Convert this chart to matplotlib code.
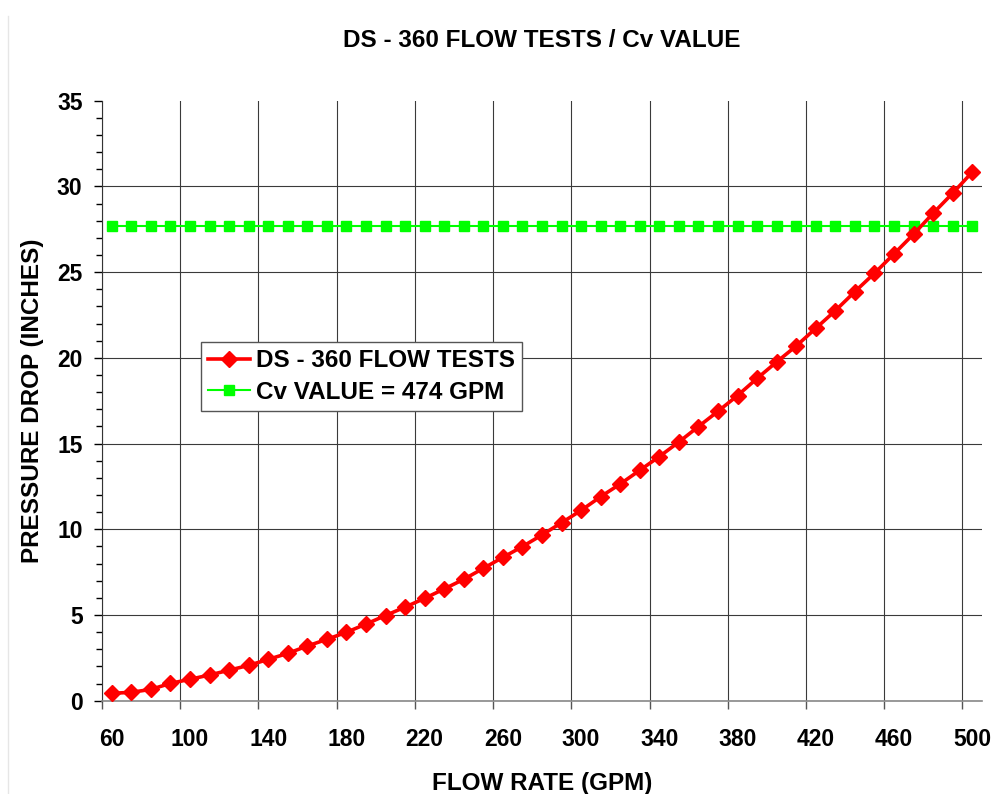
import matplotlib
matplotlib.use("Agg")
import matplotlib.pyplot as plt
from matplotlib.lines import Line2D

# datos del grafico
flow = [60, 70, 80, 90, 100, 110, 120, 130, 140, 150, 160, 170, 180, 190, 200,
        210, 220, 230, 240, 250, 260, 270, 280, 290, 300, 310, 320, 330, 340, 350,
        360, 370, 380, 390, 400, 410, 420, 430, 440, 450, 460, 470, 480, 490, 500]
pressure = [0.43, 0.49, 0.66, 1.01, 1.25, 1.50, 1.78, 2.06, 2.41, 2.76, 3.19, 3.58,
            3.99, 4.47, 4.97, 5.46, 5.97, 6.52, 7.08, 7.72, 8.36, 8.99, 9.67, 10.38,
            11.10, 11.90, 12.64, 13.44, 14.24, 15.09, 15.99, 16.88, 17.80, 18.80,
            19.76, 20.69, 21.72, 22.75, 23.86, 24.93, 26.06, 27.21, 28.43, 29.60, 30.83]
cv_drop = 27.7
x_labels = [60, 100, 140, 180, 220, 260, 300, 340, 380, 420, 460, 500]
y_ticks = [0, 5, 10, 15, 20, 25, 30, 35]

plt.rcParams['font.family'] = ['Liberation Sans', 'DejaVu Sans']
plt.rcParams['font.weight'] = 'bold'

fig = plt.figure(figsize=(9.95, 7.94), dpi=100)
ax = fig.add_axes([0.1025, 0.1175, 0.8844, 0.7557])

ax.plot(flow, pressure, color='#ff0000', lw=2.6, marker='D', ms=8.5,
        label='DS - 360 FLOW TESTS', zorder=4)
ax.plot(flow, [cv_drop] * len(flow), color='#00ff00', lw=1.5, marker='s', ms=7,
        label='Cv VALUE = 474 GPM', zorder=3)

ax.set_xlim(55, 505)
ax.set_ylim(0, 35)

# eje de categorias: lineas entre categorias, etiquetas en el centro
borders = [x - 5 for x in x_labels]
ax.set_xticks(borders)
ax.set_xticklabels([''] * len(borders))
ax.set_xticks(x_labels, minor=True)
ax.set_xticklabels([str(v) for v in x_labels], minor=True)
ax.tick_params(axis='x', which='major', direction='out', length=6, width=1, color='#555555')
ax.tick_params(axis='x', which='minor', length=0, pad=20, labelsize=16.5)

ax.set_yticks(y_ticks)
ax.set_yticks([v for v in range(0, 36) if v % 5], minor=True)
ax.tick_params(axis='y', which='major', direction='out', length=6, width=1, pad=8, labelsize=16.5)
ax.tick_params(axis='y', which='minor', direction='out', length=4, width=1)

ax.grid(True, which='major', color='#3a3a3a', lw=0.8)
ax.get_ygridlines()[-1].set_visible(False)
ax.set_axisbelow(True)

ax.spines['top'].set_visible(False)
ax.spines['right'].set_visible(False)
ax.spines['left'].set_color('#333333')
ax.spines['bottom'].set_color('#888888')
ax.spines['bottom'].set_linewidth(1.2)

ax.set_title('DS - 360 FLOW TESTS / Cv VALUE', fontsize=17.5, fontweight='bold', pad=39)
ax.set_xlabel('FLOW RATE (GPM)', fontsize=17.5, fontweight='bold', labelpad=15)
ax.set_ylabel('PRESSURE DROP (INCHES)', fontsize=17.5, fontweight='bold', labelpad=9)

leg = ax.legend(loc='upper left', bbox_to_anchor=(0.1125, 0.598), borderaxespad=0,
                fancybox=False, framealpha=1, edgecolor='#555555', fontsize=17.5,
                handlelength=1.7, handletextpad=0.25, labelspacing=0.35,
                borderpad=0.3)
leg.get_frame().set_linewidth(1)

# borde tenue del grafico a la izquierda
fig.add_artist(Line2D([0.008, 0.008], [0.0, 0.98], color='#e6e6e6', lw=1))

fig.savefig('out.png', dpi=100)
